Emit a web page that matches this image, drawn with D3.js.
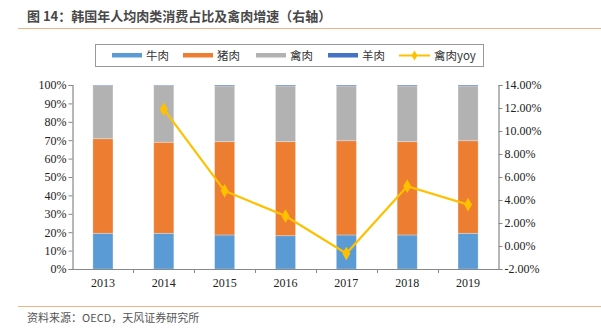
<!DOCTYPE html>
<html>
<head>
<meta charset="utf-8">
<script src="https://cdn.jsdelivr.net/npm/d3@7"></script>
<style>
  body { margin: 0; background: #fff; }
  svg { display: block; }
</style>
</head>
<body>
<svg id="chart" width="601" height="328"></svg>
<script>
// data (percent)
var years = ["2013", "2014", "2015", "2016", "2017", "2018", "2019"];
var beef = [19.4, 19.4, 18.5, 18.1, 18.5, 18.5, 19.4];
var pork = [51.4, 49.5, 50.7, 51.1, 51.2, 50.7, 50.3];
var mutton = [0.3, 0.3, 0.5, 0.5, 0.5, 0.5, 0.5];
var poultryYoy = [null, 11.9, 4.8, 2.6, -0.65, 5.2, 3.6];
var leftTicks = [0, 10, 20, 30, 40, 50, 60, 70, 80, 90, 100];
var rightTicks = [-2, 0, 2, 4, 6, 8, 10, 12, 14];

// poultry fills the rest of each 100% bar
var poultry = years.map(function(y, i) { return 100 - beef[i] - pork[i] - mutton[i]; });

var series = [
    { name: "牛肉", values: beef, color: "#5b9bd5" },
    { name: "猪肉", values: pork, color: "#ed7d31" },
    { name: "禽肉", values: poultry, color: "#b2b2b2" },
    { name: "羊肉", values: mutton, color: "#4472c4" }
];

var svg = d3.select("#chart");
var plotLeft = 72.5, plotRight = 498.5, plotTop = 85, plotBottom = 269;

// title + rules
svg.append("text")
    .attr("x", 27).attr("y", 21)
    .attr("font-family", "'Noto Sans CJK SC', sans-serif")
    .attr("font-size", 13).attr("font-weight", "bold")
    .attr("fill", "#484848")
    .text("图 14：韩国年人均肉类消费占比及禽肉增速（右轴）");
svg.append("line").attr("x1", 18).attr("x2", 601).attr("y1", 28.5).attr("y2", 28.5)
    .attr("stroke", "#f4b183").attr("stroke-width", 1.2);
svg.append("line").attr("x1", 18).attr("x2", 601).attr("y1", 306.5).attr("y2", 306.5)
    .attr("stroke", "#f4b183").attr("stroke-width", 1.2);
svg.append("text")
    .attr("x", 27).attr("y", 322)
    .attr("font-family", "'Noto Sans CJK SC', sans-serif")
    .attr("font-size", 11).attr("fill", "#555")
    .text("资料来源：OECD，天风证券研究所");

var x = d3.scaleBand().domain(years).range([plotLeft, plotRight]).paddingInner(0.67).paddingOuter(0.335);
var yL = d3.scaleLinear().domain([0, 100]).range([plotBottom, plotTop]);
var yR = d3.scaleLinear().domain([-2, 14]).range([plotBottom, plotTop]);

// stacked bars
var stack = [];
years.forEach(function(yr, i) {
    var acc = 0;
    series.forEach(function(s) {
        stack.push({ year: yr, y0: acc, y1: acc + s.values[i], color: s.color });
        acc += s.values[i];
    });
});
svg.append("g")
    .selectAll("rect")
    .data(stack)
    .enter()
    .append("rect")
    .attr("x", function(d) { return x(d.year); })
    .attr("width", x.bandwidth())
    .attr("y", function(d) { return yL(d.y1); })
    .attr("height", function(d) { return yL(d.y0) - yL(d.y1); })
    .attr("fill", function(d) { return d.color; })
    .attr("stroke", "rgba(255,255,255,0.35)")
    .attr("stroke-width", 0.8);

// axes
var serif = "'Liberation Serif', 'Times New Roman', serif";
var axL = svg.append("g").attr("transform", "translate(" + plotLeft + ",0)")
    .call(d3.axisLeft(yL).tickValues(leftTicks).tickSize(4).tickFormat(function(d) { return d + "%"; }));
var axR = svg.append("g").attr("transform", "translate(" + plotRight + ",0)")
    .call(d3.axisRight(yR).tickValues(rightTicks).tickSize(4).tickFormat(function(d) { return d.toFixed(2) + "%"; }));
var axB = svg.append("g").attr("transform", "translate(0," + plotBottom + ")")
    .call(d3.axisBottom(x).tickSize(0).tickPadding(9));
// category boundary ticks
svg.append("g")
    .selectAll("line")
    .data(years.slice(1))
    .enter()
    .append("line")
    .attr("x1", function(d) { return Math.round(x(d) - x.step() * x.paddingInner() / 2) + 0.5; })
    .attr("x2", function(d) { return Math.round(x(d) - x.step() * x.paddingInner() / 2) + 0.5; })
    .attr("y1", plotBottom).attr("y2", plotBottom + 4)
    .attr("stroke", "#888");

[axL, axR, axB].forEach(function(a) {
    a.selectAll("path").attr("stroke", "#888").attr("stroke-width", 1.2);
    a.selectAll("line").attr("stroke", "#888");
    a.selectAll("text").attr("font-family", serif).attr("font-size", 12).attr("fill", "#222");
});
axL.selectAll("text").attr("x", -6);
axR.selectAll("text").attr("x", 6);

// yoy line on right axis
var pts = years.map(function(y, i) { return { year: y, v: poultryYoy[i] }; })
    .filter(function(d) { return d.v !== null; });
var line = d3.line()
    .x(function(d) { return x(d.year) + x.bandwidth() / 2; })
    .y(function(d) { return yR(d.v); });
svg.append("path").datum(pts)
    .attr("d", line)
    .attr("fill", "none").attr("stroke", "#ffc000").attr("stroke-width", 2.2);
svg.append("g")
    .selectAll("path")
    .data(pts)
    .enter()
    .append("path")
    .attr("d", d3.symbol().type(d3.symbolDiamond).size(55))
    .attr("transform", function(d) { return "translate(" + (x(d.year) + x.bandwidth() / 2) + "," + yR(d.v) + ")"; })
    .attr("fill", "#ffc000");

// legend
var lg = svg.append("g");
lg.append("rect").attr("x", 95.5).attr("y", 44.5).attr("width", 388).attr("height", 22)
    .attr("fill", "#fff").attr("stroke", "#999");
var legendX = [112, 183, 256, 328];
series.forEach(function(s, i) {
    lg.append("rect").attr("x", legendX[i]).attr("y", 53).attr("width", 30).attr("height", 4.5).attr("fill", s.color);
    lg.append("text").attr("x", legendX[i] + 34).attr("y", 60)
        .attr("font-family", "'Noto Sans CJK SC', sans-serif").attr("font-size", 11.5).attr("fill", "#333")
        .text(s.name);
});
lg.append("line").attr("x1", 399).attr("x2", 430).attr("y1", 55.5).attr("y2", 55.5)
    .attr("stroke", "#ffc000").attr("stroke-width", 2);
lg.append("path").attr("d", d3.symbol().type(d3.symbolDiamond).size(30))
    .attr("transform", "translate(414.5,55.5)").attr("fill", "#ffc000");
lg.append("text").attr("x", 434).attr("y", 60)
    .attr("font-family", "'Noto Sans CJK SC', sans-serif").attr("font-size", 11.5).attr("fill", "#333")
    .text("禽肉yoy");
</script>
</body>
</html>
